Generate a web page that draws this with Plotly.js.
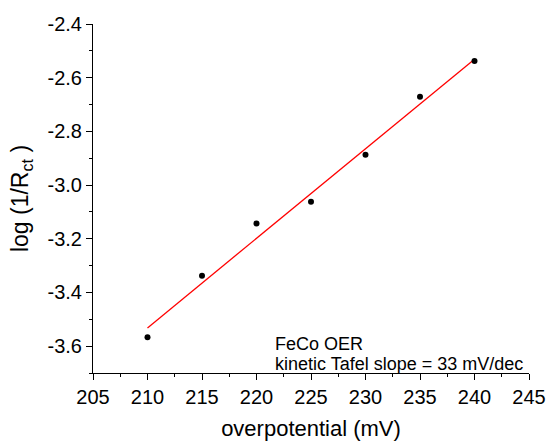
<!DOCTYPE html>
<html>
<head>
<meta charset="utf-8">
<script src="https://cdn.plot.ly/plotly-3.0.1.min.js"></script>
<style>html,body{margin:0;padding:0;background:#fff;}#chart{width:550px;height:445px;}</style>
</head>
<body>
<div id="chart"></div>
<script>
// Measured data points
const overpotential = [210, 215, 220, 225, 230, 235, 240];
const logInvRct = [-3.567, -3.338, -3.143, -3.062, -2.887, -2.671, -2.538];
// Linear fit line (endpoints)
const fitX = [210, 240];
const fitY = [-3.532, -2.531];
// Tick labels
const yTickVals = [-3.6, -3.4, -3.2, -3.0, -2.8, -2.6, -2.4];
const yTickText = ["-3.6", "-3.4", "-3.2", "-3.0", "-2.8", "-2.6", "-2.4"];
const xTickVals = [205, 210, 215, 220, 225, 230, 235, 240, 245];
const xTickText = ["205", "210", "215", "220", "225", "230", "235", "240", "245"];
// Annotation text
const noteLines = ["FeCo OER", "kinetic Tafel slope = 33 mV/dec"];
// Axis labels
const xTitle = "overpotential (mV)";
const yTitle = "log (1/R<sub>ct</sub> )";

const FONT = '"Liberation Sans", Arial, sans-serif';

const traces = [
  {
    x: fitX, y: fitY, type: 'scatter', mode: 'lines',
    line: {color: '#ff0000', width: 1.3}, hoverinfo: 'skip', showlegend: false
  },
  {
    x: overpotential, y: logInvRct, type: 'scatter', mode: 'markers',
    marker: {color: '#000000', size: 6}, showlegend: false
  }
];

const axisCommon = {
  showgrid: false, zeroline: false, showline: true, linecolor: '#000', linewidth: 1,
  ticks: 'outside', ticklen: 6, tickwidth: 1, tickcolor: '#000',
  tickfont: {family: FONT, size: 20, color: '#000'},
  mirror: false
};

const layout = {
  width: 550, height: 445,
  margin: {l: 93, r: 21, t: 24, b: 72},
  paper_bgcolor: '#fff', plot_bgcolor: '#fff',
  font: {family: FONT, color: '#000'},
  showlegend: false,
  xaxis: Object.assign({}, axisCommon, {
    range: [205, 245], tickmode: 'array', tickvals: xTickVals, ticktext: xTickText,
    minor: {dtick: 2.5, tick0: 205, ticks: 'outside', ticklen: 3, tickcolor: '#000'},
    title: {text: xTitle, font: {family: FONT, size: 22, color: '#000'}, standoff: 13}
  }),
  yaxis: Object.assign({}, axisCommon, {
    range: [-3.7, -2.4], tickmode: 'array', tickvals: yTickVals, ticktext: yTickText,
    minor: {dtick: 0.1, tick0: -3.6, ticks: 'outside', ticklen: 3, tickcolor: '#000'},
    title: {text: yTitle, font: {family: FONT, size: 23, color: '#000'}, standoff: 12}
  }),
  annotations: [
    {xref: 'paper', yref: 'paper', x: 0.4125, y: 0.084, xanchor: 'left', yanchor: 'middle',
     text: noteLines[0], showarrow: false, font: {family: FONT, size: 18, color: '#000'}},
    {xref: 'paper', yref: 'paper', x: 0.4125, y: 0.027, xanchor: 'left', yanchor: 'middle',
     text: noteLines[1], showarrow: false, font: {family: FONT, size: 18, color: '#000'}}
  ]
};

Plotly.newPlot('chart', traces, layout, {displayModeBar: false, staticPlot: true});
</script>
</body>
</html>
